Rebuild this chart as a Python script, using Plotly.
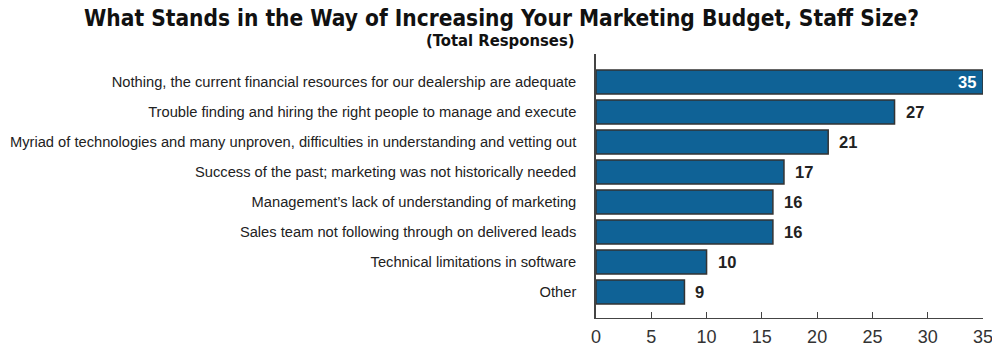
import plotly.graph_objects as go

categories = [
    "Nothing, the current financial resources for our dealership are adequate",
    "Trouble finding and hiring the right people to manage and execute",
    "Myriad of technologies and many unproven, difficulties in understanding and vetting out",
    "Success of the past; marketing was not historically needed",
    "Management\u2019s lack of understanding of marketing",
    "Sales team not following through on delivered leads",
    "Technical limitations in software",
    "Other",
]
# bar lengths as drawn in the picture
bar_values = [35, 27, 21, 17, 16, 16, 10, 8]
# value labels as printed in the picture
value_labels = ["35", "27", "21", "17", "16", "16", "10", "9"]
x_ticks = [0, 5, 10, 15, 20, 25, 30, 35]

TITLE = "What Stands in the Way of Increasing Your Marketing Budget, Staff Size?"
SUBTITLE = "(Total Responses)"

SANS = "Liberation Sans, Arial, sans-serif"
COND = "DejaVu Sans Condensed, DejaVu Sans, sans-serif"
BAR_COLOR = "#0f6296"

# the page body adds an 8px offset; figure coordinates are page minus 8
OFF = 8
FIG_W, FIG_H = 1000 - OFF, 356 - OFF
L, R, T, B = 596 - OFF, 17, 54 - OFF, 38
PLOT_W = FIG_W - L - R


def page_x_to_paper(px):
    return (px - OFF - L) / PLOT_W


fig = go.Figure()
fig.add_trace(go.Bar(
    x=bar_values,
    y=categories,
    orientation="h",
    width=0.8,
    marker=dict(color=BAR_COLOR, line=dict(color="#333333", width=1.5)),
    hoverinfo="x+y",
))

annotations = []
for i, (v, lab) in enumerate(zip(bar_values, value_labels)):
    inside = i == 0
    annotations.append(dict(
        x=v, y=categories[i], xref="x", yref="y",
        text=f"<b>{lab}</b>", showarrow=False,
        xanchor="right" if inside else "left",
        xshift=-5 if inside else 9,
        font=dict(family=SANS, size=16.5, color="#ffffff" if inside else "#222222"),
    ))

annotations.append(dict(
    x=page_x_to_paper(501), y=1, xref="paper", yref="paper",
    text=f"<b>{TITLE}</b>", showarrow=False,
    xanchor="center", yanchor="middle", yshift=54 - 18,
    font=dict(family=COND, size=22.5, color="#111111"),
))
annotations.append(dict(
    x=page_x_to_paper(500), y=1, xref="paper", yref="paper",
    text=f"<b>{SUBTITLE}</b>", showarrow=False,
    xanchor="center", yanchor="middle", yshift=54 - 40,
    font=dict(family=COND, size=16.5, color="#111111"),
))

fig.update_layout(
    width=FIG_W, height=FIG_H,
    margin=dict(l=L, r=R, t=T, b=B),
    paper_bgcolor="white", plot_bgcolor="white",
    showlegend=False,
    annotations=annotations,
    xaxis=dict(
        range=[0, 35], tickvals=x_ticks, ticktext=[str(t) for t in x_ticks],
        showgrid=False, zeroline=False, automargin=False,
        showline=True, linecolor="#444444", linewidth=1,
        ticks="inside", ticklen=6, tickwidth=1, tickcolor="#444444",
        ticklabelstandoff=2,
        tickfont=dict(family=SANS, size=18, color="#333333"),
    ),
    yaxis=dict(
        categoryorder="array", categoryarray=categories,
        range=[7.5 + 11 / 30, -0.5 - 13 / 30],
        showgrid=False, zeroline=False, automargin=False,
        showline=True, linecolor="#444444", linewidth=1.5,
        ticks="", ticklabelstandoff=15,
        tickfont=dict(family=SANS, size=14.7, color="#222222"),
    ),
)

fig.write_html("out.html")
